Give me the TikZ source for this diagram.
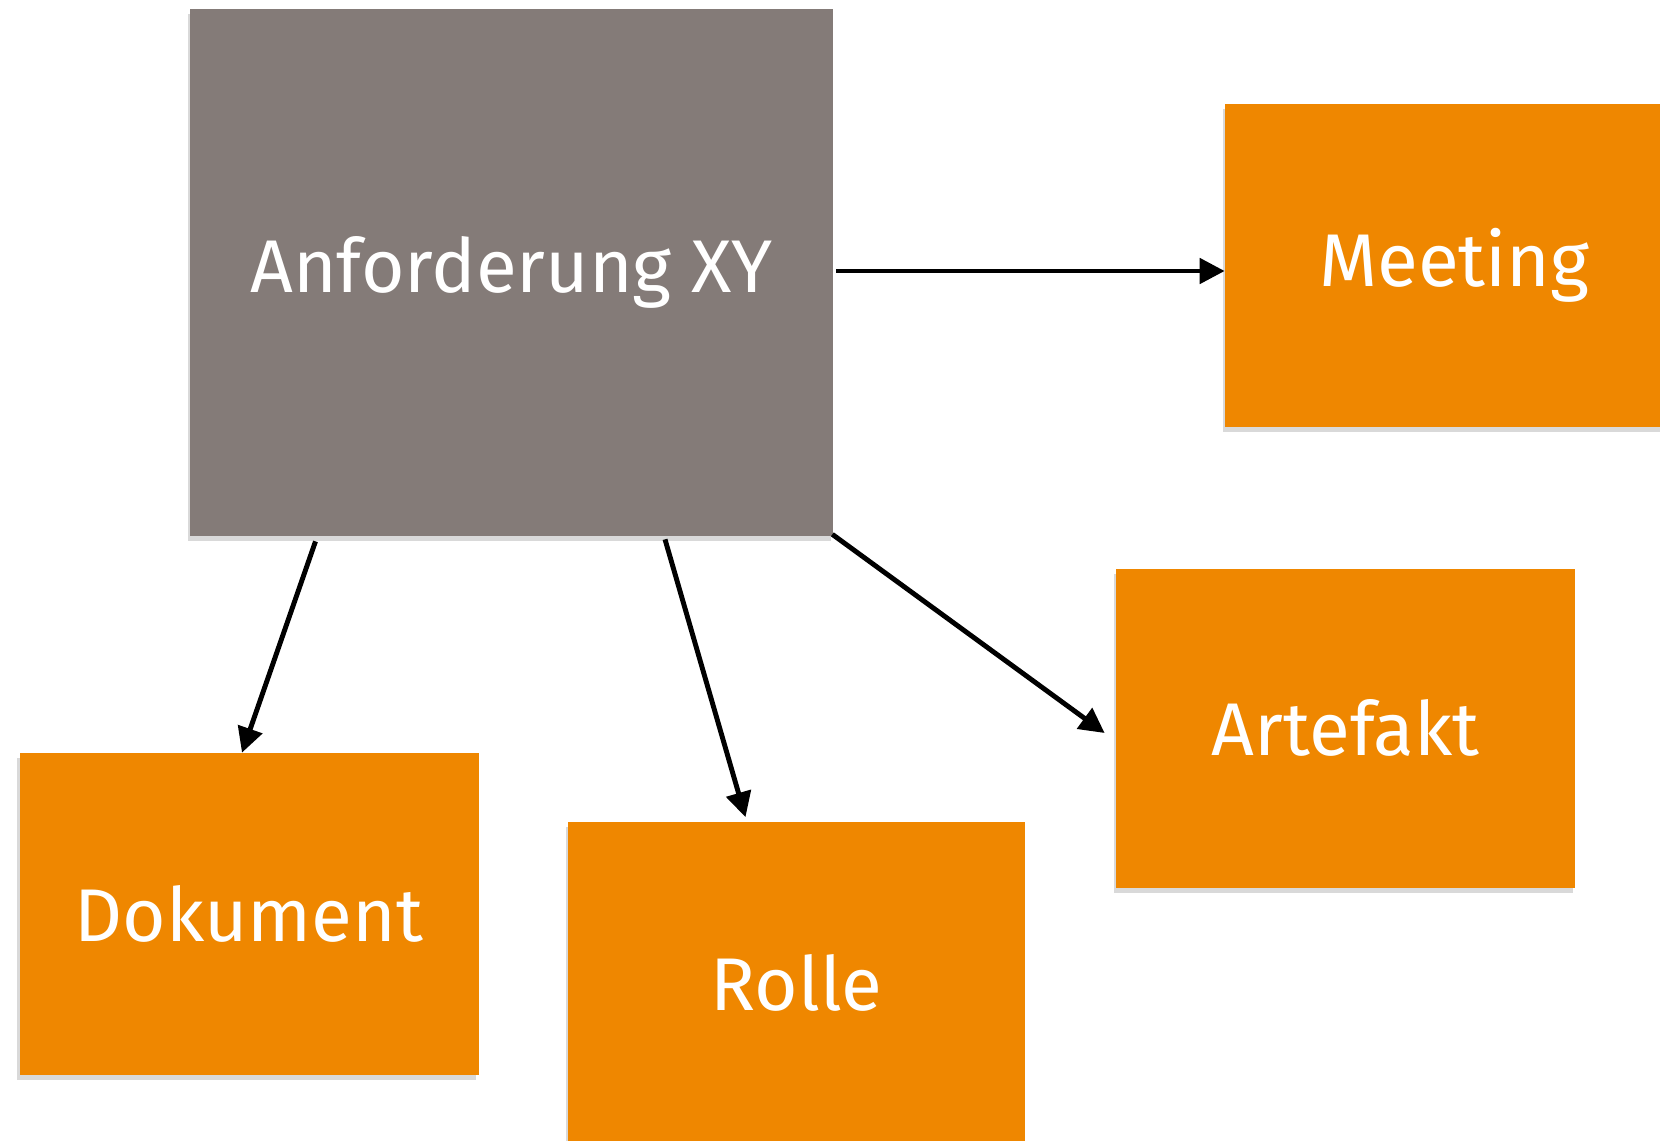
\documentclass[tikz,border=0pt]{standalone}
\usepackage{fontspec}
\setmainfont{Fira Sans}
\usetikzlibrary{
  arrows.meta,
  shadows
}
\definecolor{Ink}{HTML}{000000}
\definecolor{ReqFill}{HTML}{847B78}
\definecolor{ItemFill}{HTML}{EF8700}
\newcommand{\diagramboxfont}{\fontsize{42.5}{48}\selectfont}
\tikzset{
  % Shared block look: flat fill, white label, soft shadow below.
  every node/.style={font=\diagramboxfont},
  item block/.style={
    fill=#1,
    text=white,
    minimum width=9.18cm,
    minimum height=6.44cm,
    inner sep=0pt,
    drop shadow={shadow xshift=-0.5mm,shadow yshift=-1mm,opacity=0.3}
  },
  item block/.default=ItemFill,
  link/.style={
    -{Triangle[length=5mm,width=5mm]},
    draw=Ink,
    line width=2.8pt
  }
}

\begin{document}
\begin{tikzpicture}

\useasboundingbox (0,0) rectangle (33.2,-22.8);
\clip (0,0) rectangle (33.2,-22.8);

% ---------------------------------------------------------------------------
% Blocks
% ---------------------------------------------------------------------------
\node[item block=ReqFill, minimum width=12.86cm, minimum height=10.54cm]
  (reqBlock) at (10.23,-5.45) {Anforderung XY};

\node[item block, minimum height=6.46cm] (meetingBlock) at (29.09,-5.31) {Meeting};
\node[item block, minimum height=6.38cm] (artefaktBlock) at (26.91,-14.56) {Artefakt};
\node[item block] (dokumentBlock) at (4.98,-18.28) {Dokument};
\node[item block, minimum width=9.13cm] (rolleBlock) at (15.93,-19.65) {Rolle};

% ---------------------------------------------------------------------------
% Links from the requirement
% ---------------------------------------------------------------------------
\draw[link] ([xshift=0.06cm,yshift=0.03cm]reqBlock.east) --
  ([yshift=0.03cm]reqBlock.east -| meetingBlock.west);
\draw[link] ([xshift=-3.92cm,yshift=-0.1cm]reqBlock.south) --
  ([xshift=-0.14cm]dokumentBlock.north);
\draw[link] ([xshift=3.07cm,yshift=-0.06cm]reqBlock.south) --
  ([xshift=-1.02cm,yshift=0.08cm]rolleBlock.north);
\draw[link] ([xshift=-0.02cm,yshift=0.04cm]reqBlock.south east) --
  ([xshift=-0.22cm,yshift=-0.1cm]artefaktBlock.west);

\end{tikzpicture}
\end{document}
